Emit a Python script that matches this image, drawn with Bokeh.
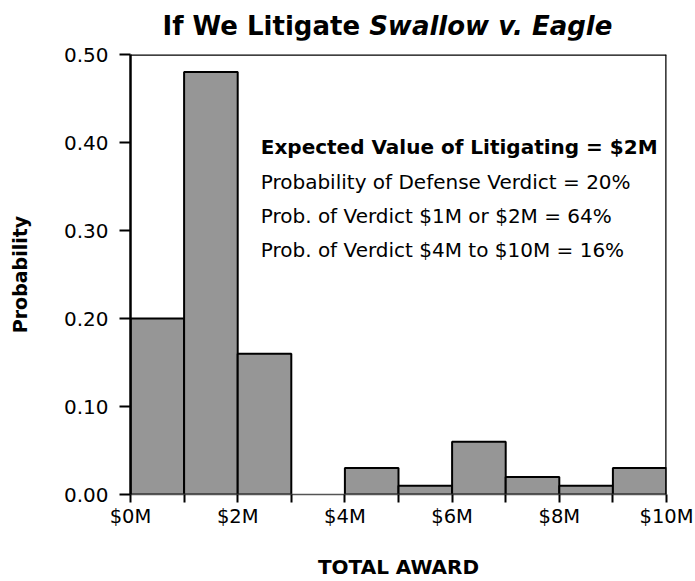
from bokeh.plotting import figure
from bokeh.models import Label, FixedTicker, Range1d, NumeralTickFormatter, Span, Div
from bokeh.layouts import column
from bokeh.embed import file_html
from bokeh.resources import INLINE

# Data
bin_left = [0, 1, 2, 3, 4, 5, 6, 7, 8, 9]
bin_right = [1, 2, 3, 4, 5, 6, 7, 8, 9, 10]
probability = [0.20, 0.48, 0.16, 0.00, 0.03, 0.01, 0.06, 0.02, 0.01, 0.03]
x_ticks = [0, 2, 4, 6, 8, 10]
x_minor = [1, 3, 5, 7, 9]
x_labels = {0: "$0M", 2: "$2M", 4: "$4M", 6: "$6M", 8: "$8M", 10: "$10M"}
y_ticks = [0.0, 0.1, 0.2, 0.3, 0.4, 0.5]
headline = "Expected Value of Litigating = $2M"
notes = [
    "Probability of Defense Verdict = 20%",
    "Prob. of Verdict $1M or $2M = 64%",
    "Prob. of Verdict $4M to $10M = 16%",
]
title_plain = "If We Litigate"
title_italic = "Swallow v. Eagle"

FONT = "DejaVu Sans"
W, H = 695, 581
TITLE_H = 40

title = Div(
    text=(f'<div style="font-family:\'{FONT}\';font-size:26px;font-weight:bold;'
          f'color:black;text-align:center;width:{W}px;padding-left:80px;'
          f'box-sizing:border-box;line-height:30px;padding-top:11px;white-space:nowrap;">'
          f'{title_plain} <i>{title_italic}</i></div>'),
    width=W, height=TITLE_H, margin=(0, 0, 0, 0))

p = figure(width=W, height=H - TITLE_H, output_backend="svg", toolbar_location=None,
           x_range=Range1d(0, 10), y_range=Range1d(0, 0.5),
           min_border_left=130, min_border_right=29, min_border_top=14,
           min_border_bottom=83, margin=(0, 0, 0, 0))
p.grid.visible = False
p.outline_line_color = None
p.background_fill_color = "white"

# bars (zero-height bins draw nothing)
keep = [i for i, v in enumerate(probability) if v > 0]
p.quad(left=[bin_left[i] for i in keep], right=[bin_right[i] for i in keep],
       top=[probability[i] for i in keep], bottom=0,
       fill_color="#969696", line_color="black", line_width=2)

# top and right border of the plot area
p.add_layout(Span(location=y_ticks[-1], dimension="width", line_color="black", line_width=2.5))
p.add_layout(Span(location=x_ticks[-1], dimension="height", line_color="black", line_width=2.5))

# axes
p.xaxis.ticker = FixedTicker(ticks=x_ticks, minor_ticks=x_minor)
p.xaxis.major_label_overrides = x_labels
p.yaxis.ticker = FixedTicker(ticks=y_ticks)
p.yaxis.formatter = NumeralTickFormatter(format="0.00")
for ax in (p.xaxis, p.yaxis):
    ax.major_tick_line_color = "black"
    ax.major_tick_line_width = 2
    ax.major_tick_in = 0
    ax.minor_tick_line_color = "black"
    ax.minor_tick_line_width = 2
    ax.minor_tick_in = 0
    ax.major_label_text_font = FONT
    ax.major_label_text_font_size = "20px"
    ax.major_label_text_color = "black"
    ax.axis_label_text_font = FONT
    ax.axis_label_text_font_style = "bold"
    ax.axis_label_text_color = "black"
p.yaxis.axis_line_color = "black"
p.yaxis.axis_line_width = 2.5
p.xaxis.axis_line_color = "#555555"
p.xaxis.axis_line_width = 1.5
p.yaxis.minor_tick_line_color = None
p.yaxis.major_tick_out = 11
p.xaxis.major_tick_out = 8
p.xaxis.minor_tick_out = 8
p.xaxis.major_label_text_font_size = "19.5px"
p.xaxis.axis_label = "TOTAL AWARD"
p.yaxis.axis_label = "Probability"
p.xaxis.axis_label_text_font_size = "20px"
p.yaxis.axis_label_text_font_size = "19px"
p.xaxis.axis_label_standoff = 24
p.yaxis.axis_label_standoff = 30
p.xaxis.major_label_standoff = 2
p.yaxis.major_label_standoff = 11

# annotation text
p.add_layout(Label(x=2.43, y=0.395, text=headline, text_font=FONT,
                   text_font_size="20px", text_font_style="bold",
                   text_baseline="middle", text_color="black"))
for t, yy in zip(notes, [0.355, 0.317, 0.278]):
    p.add_layout(Label(x=2.43, y=yy, text=t, text_font=FONT,
                       text_font_size="20px", text_baseline="middle",
                       text_color="black"))

layout = column(title, p, spacing=0, margin=(0, 0, 0, 0))
open("out.html", "w").write(file_html(layout, INLINE))
